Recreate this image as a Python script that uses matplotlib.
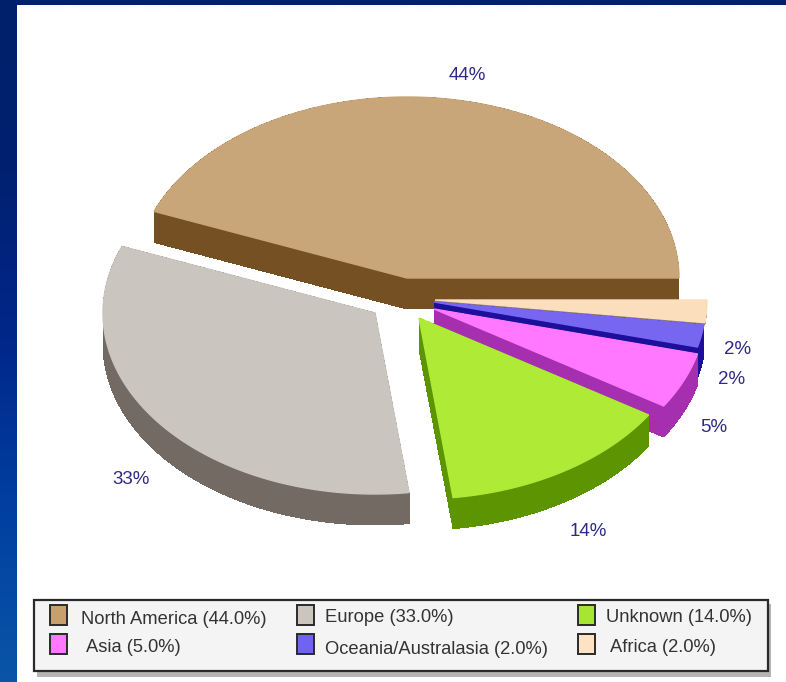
import numpy as np
import matplotlib
matplotlib.use('Agg')
import matplotlib.pyplot as plt
from matplotlib.patches import Polygon, Rectangle
from matplotlib.colors import LinearSegmentedColormap

# data
regions = ['North America', 'Europe', 'Unknown', 'Asia', 'Oceania/Australasia', 'Africa']
shares = [44.0, 33.0, 14.0, 5.0, 2.0, 2.0]
top_colors = ['#c8a67a', '#cbc5c0', '#aeea36', '#ff78ff', '#7766f0', '#fbdfbd']
side_colors = ['#745022', '#736a64', '#5c9402', '#a52fae', '#1c0f9c', '#8d7a60']
legend_colors = ['#c8a06e', '#cbc5c0', '#a6e632', '#ff78ff', '#6f63f0', '#fde2c4']

# layout, in pixels of the picture
apex_x = [407, 375, 419, 434, 434, 435]
apex_y = [278, 313, 318, 309, 302, 300]
depths = [31, 31, 31, 31, 31, 2]
label_x = [467, 131, 588, 714, 732, 738]
label_y = [76, 479, 531, 427, 379, 349]
legend_box_x = [50, 297, 578, 50, 297, 578]
legend_box_y = [605, 605, 605, 634, 634, 634]
legend_text_x = [81, 325, 606, 86, 325, 610]
legend_text_y = [620, 617, 617, 648, 650, 648]
rx, ry = 272, 181

fig = plt.figure(figsize=(7.86, 6.82), dpi=100)
ax = fig.add_axes([0, 0, 1, 1])
ax.set_xlim(0, 786)
ax.set_ylim(682, 0)
ax.axis('off')

# slide background, dark at the top and brighter at the bottom
cmap = LinearSegmentedColormap.from_list('slide', ['#00216b', '#002070', '#00278a', '#0040a0', '#0a55a8'])
ax.imshow(np.linspace(0, 1, 256).reshape(-1, 1), cmap=cmap, extent=[0, 786, 682, 0], aspect='auto', zorder=0)
ax.add_patch(Rectangle((17, 5), 769, 677, fc='white', ec='none', zorder=1))

def wedge_outline(cx, cy, a0, a1):
    t = np.radians(np.linspace(a0, a1, 120))
    xs = np.r_[cx, cx + rx * np.cos(t)]
    ys = np.r_[cy, cy - ry * np.sin(t)]
    return np.column_stack([xs, ys])

# slices, back to front
starts = np.r_[0, np.cumsum(shares)[:-1]] * 3.6
ends = np.cumsum(shares) * 3.6
z = 2
for i in [0, 1, 5, 4, 3, 2]:
    top = wedge_outline(apex_x[i], apex_y[i], starts[i], ends[i])
    low = top + [0, depths[i]]
    # side wall: one quad per outline segment, no antialiasing so no seams show
    for j in range(len(top)):
        k = (j + 1) % len(top)
        ax.add_patch(Polygon([top[j], top[k], low[k], low[j]], closed=True, fc=side_colors[i],
                             ec='none', lw=0, antialiased=False, zorder=z))
    ax.add_patch(Polygon(top, closed=True, fc=top_colors[i], ec=top_colors[i], lw=1, zorder=z + 1))
    z += 2

# percent labels
for i in range(len(shares)):
    ax.text(label_x[i], label_y[i], f'{shares[i]:.0f}%', color='#2d2a86', fontsize=13.5,
            family='Liberation Sans', ha='center', va='center', zorder=30)

# legend
ax.add_patch(Rectangle((37, 604), 734, 73, fc='#b5b5b5', ec='none', zorder=30))
ax.add_patch(Rectangle((34, 600), 734, 71, fc='#f4f4f4', ec='#2a2a2a', lw=1.6, zorder=31))
for i in range(len(regions)):
    ax.add_patch(Rectangle((legend_box_x[i], legend_box_y[i]), 17, 20, fc=legend_colors[i], ec='#2a2a2a', lw=1.4, zorder=32))
    ax.text(legend_text_x[i], legend_text_y[i], f'{regions[i]} ({shares[i]:.1f}%)', color='#333333', fontsize=13.2,
            family='Liberation Sans', ha='left', va='center', zorder=32)

fig.savefig('out.png', dpi=100)
